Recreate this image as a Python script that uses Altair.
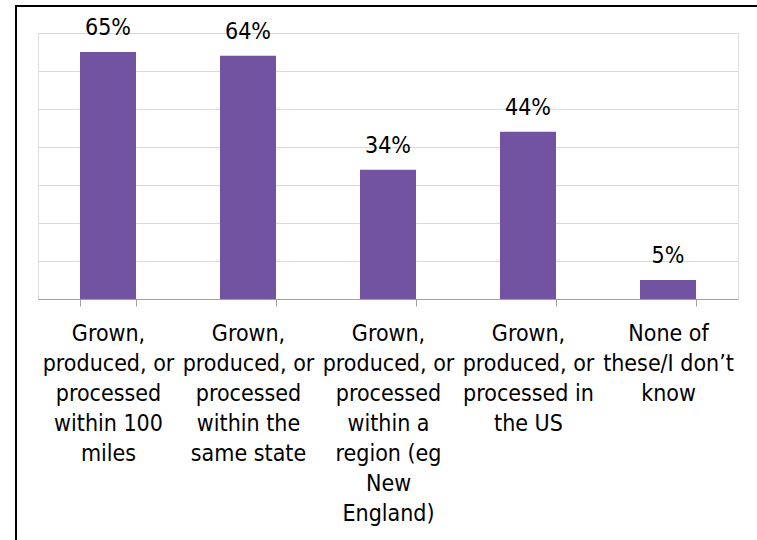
import altair as alt
import pandas as pd

categories = [
    "Grown,|produced, or|processed|within 100|miles",
    "Grown,|produced, or|processed|within the|same state",
    "Grown,|produced, or|processed|within a|region (eg|New|England)",
    "Grown,|produced, or|processed in|the US",
    "None of|these/I don\u2019t|know",
]
values = [65, 64, 34, 44, 5]
y_ticks = [0, 10, 20, 30, 40, 50, 60, 70]

FONT = "DejaVu Sans Condensed, Liberation Sans Narrow, DejaVu Sans"
PURPLE = "#7153a1"

df = pd.DataFrame({"cat": categories, "value": values})

x_enc = alt.X(
    "cat:N",
    sort=categories,
    scale=alt.Scale(paddingInner=0.6, paddingOuter=0.3),
    axis=alt.Axis(
        title=None,
        labelExpr="split(datum.label, '|')",
        labelAngle=0,
        labelFont=FONT,
        labelFontSize=23,
        labelColor="#000000",
        labelLineHeight=30,
        labelPadding=16,
        labelLimit=300,
        labelOverlap=False,
        labelBaseline="top",
        tickBand="extent",
        tickSize=7,
        tickColor="#a0a0a0",
        domainColor="#a0a0a0",
        grid=False,
    ),
)
y_enc = alt.Y(
    "value:Q",
    scale=alt.Scale(domain=[0, 70], nice=False),
    axis=alt.Axis(
        title=None,
        values=y_ticks,
        labels=False,
        ticks=False,
        domain=False,
        grid=True,
        gridColor="#d9d9d9",
        gridWidth=1,
    ),
)

base = alt.Chart(df)
bars = base.mark_bar(color=PURPLE).encode(x=x_enc, y=y_enc)
text = base.transform_calculate(lbl="datum.value + '%'").mark_text(
    font=FONT, fontSize=23, color="#000000", baseline="alphabetic", dy=-17
).encode(x=x_enc, y=y_enc, text="lbl:N")

frame_data = pd.DataFrame({"k": [0]})
frame_v = alt.Chart(frame_data).mark_rule(color="#000000", strokeWidth=2).encode(
    x=alt.value(-22), y=alt.value(-28), y2=alt.value(600)
)
frame_h = alt.Chart(frame_data).mark_rule(color="#000000", strokeWidth=2).encode(
    y=alt.value(-27), x=alt.value(-23), x2=alt.value(800)
)

chart = alt.layer(bars, text, frame_v, frame_h).properties(
    width=700,
    height=266,
    autosize=alt.AutoSizeParams(type="none"),
    padding={"left": 38, "top": 33, "right": 19, "bottom": 241},
).configure_view(stroke=None).configure(background="white")

chart.save("out.html", embed_options={"renderer": "svg", "actions": False})
